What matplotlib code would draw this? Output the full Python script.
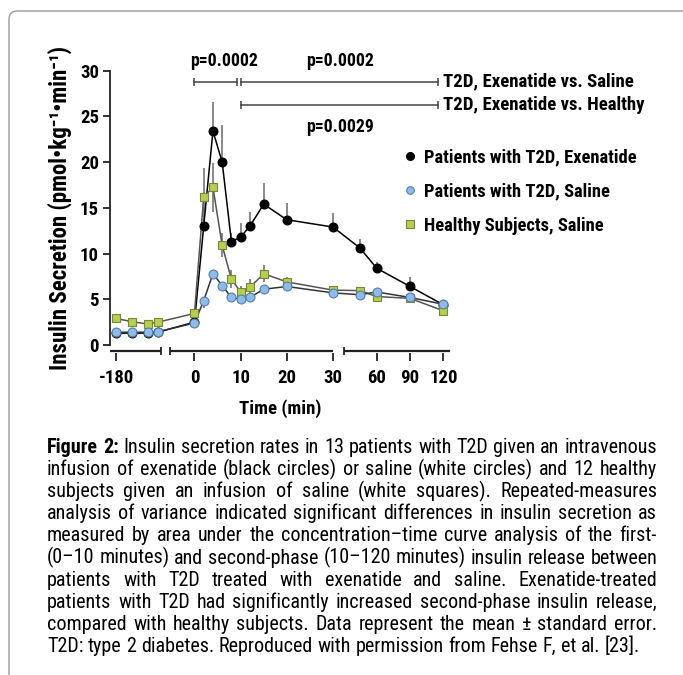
import numpy as np
import matplotlib
matplotlib.use('Agg')
import matplotlib.pyplot as plt
import matplotlib.font_manager as fm
from matplotlib.lines import Line2D
from matplotlib.patches import FancyBboxPatch

# pick a condensed sans if one is installed
avail = {f.name for f in fm.fontManager.ttflist}
narrow = next((n for n in ['Liberation Sans Narrow', 'Arial Narrow', 'Roboto Condensed',
                           'Open Sans Condensed'] if n in avail), 'Liberation Sans')
plt.rcParams['font.family'] = [narrow, 'DejaVu Sans']

# ---- data ----
time_min = [-180, -150, -120, -100, 0, 2, 4, 6, 8, 10, 12, 15, 20, 30, 45, 60, 90, 120]
exenatide = [1.3, 1.3, 1.3, 1.4, 2.5, 13.0, 23.4, 20.0, 11.3, 11.8, 13.0, 15.4, 13.7, 12.9, 10.6, 8.4, 6.4, 4.4]
exenatide_se = [0.2, 0.2, 0.2, 0.2, 0.3, 2.0, 3.2, 4.1, 1.0, 1.5, 1.5, 2.3, 1.8, 1.5, 1.0, 0.7, 1.0, 0.5]
saline = [1.4, 1.4, 1.4, 1.45, 2.4, 4.85, 7.8, 6.5, 5.2, 5.0, 5.2, 6.1, 6.4, 5.7, 5.5, 5.8, 5.2, 4.45]
saline_se = [0.2, 0.2, 0.2, 0.2, 0.3, 0.8, 0.6, 0.6, 0.4, 0.4, 0.4, 0.5, 0.5, 0.4, 0.4, 0.4, 0.5, 0.5]
healthy = [2.9, 2.55, 2.3, 2.5, 3.45, 16.2, 17.25, 10.9, 7.2, 5.8, 6.3, 7.8, 6.9, 6.0, 5.95, 5.3, 5.1, 3.75]
healthy_se = [0.3, 0.3, 0.3, 0.3, 0.4, 3.2, 2.7, 1.3, 1.0, 0.7, 0.9, 0.9, 0.5, 0.4, 0.4, 0.4, 0.4, 0.5]

xticks = [-180, 0, 10, 20, 30, 60, 90, 120]
yticks = [0, 5, 10, 15, 20, 25, 30]
legend_labels = ['Patients with T2D, Exenatide', 'Patients with T2D, Saline', 'Healthy Subjects, Saline']

caption = [
    "Figure 2: Insulin secretion rates in 13 patients with T2D given an intravenous",
    "infusion of exenatide (black circles) or saline (white circles) and 12 healthy",
    "subjects given an infusion of saline (white squares). Repeated-measures",
    "analysis of variance indicated significant differences in insulin secretion as",
    "measured by area under the concentration\u2013time curve analysis of the first-",
    "(0\u201310 minutes) and second-phase (10\u2013120 minutes) insulin release between",
    "patients with T2D treated with exenatide and saline. Exenatide-treated",
    "patients with T2D had significantly increased second-phase insulin release,",
    "compared with healthy subjects. Data represent the mean \u00b1 standard error.",
    "T2D: type 2 diabetes. Reproduced with permission from Fehse F, et al. [23].",
]

# broken time axis: piecewise linear scale
knots_t = [-192.3, -94, -5.3, 30, 32, 126]
knots_u = [110, 161, 170, 333, 345.6, 450]
fwd = lambda t: np.interp(t, knots_t, knots_u)
inv = lambda u: np.interp(u, knots_u, knots_t)

W, H = 683, 675
fig = plt.figure(figsize=(W / 100, H / 100), dpi=100)
ax = fig.add_axes([110 / W, 1 - 345 / H, 340 / W, 274.3 / H])
ax.set_xscale('function', functions=(fwd, inv))
ax.set_xlim(-192.3, 126)
ax.set_ylim(0, 30)

zeros = np.zeros(len(time_min))
# exenatide (black)
ax.errorbar(time_min, exenatide, yerr=[zeros, exenatide_se], fmt='none', ecolor='#808080',
            elinewidth=1.3, capsize=0, zorder=1.5)
ax.plot(time_min, exenatide, color='black', lw=1.1, zorder=2)
ax.plot(time_min, exenatide, 'o', ms=6.2, mfc='black', mec='black', zorder=3)
# healthy (green squares)
ax.errorbar(time_min, healthy, yerr=healthy_se, fmt='none', ecolor='#808080',
            elinewidth=1.3, capsize=0, zorder=1.5)
ax.plot(time_min, healthy, color='#555555', lw=1.1, zorder=2)
ax.plot(time_min, healthy, 's', ms=6.0, mfc='#b6cf4c', mec='#76873a', mew=0.8, zorder=4)
# saline (blue circles)
ax.errorbar(time_min, saline, yerr=[saline_se, zeros], fmt='none', ecolor='#808080',
            elinewidth=1.3, capsize=0, zorder=1.5)
ax.plot(time_min, saline, color='#333333', lw=1.1, zorder=2)
ax.plot(time_min, saline, 'o', ms=6.4, mfc='#8fbbe6', mec='#4f7fb3', mew=0.8, zorder=5)

# axes styling
for s in ['top', 'right']:
    ax.spines[s].set_visible(False)
ax.spines['left'].set_bounds(0, 30)
ax.spines['left'].set_linewidth(1.3)
ax.spines['left'].set_color('#222222')
ax.spines['bottom'].set_position(('outward', 6))
ax.spines['bottom'].set_visible(False)
ax.set_yticks(yticks)
ax.set_xticks(xticks)
ax.set_xticklabels([str(v) for v in xticks])
ax.tick_params(axis='y', length=5, width=1.3, pad=3, color='#222222', labelsize=13.5)
ax.tick_params(axis='x', length=6, width=1.3, pad=5, color='#222222', labelsize=13.5)
for lab in ax.get_xticklabels() + ax.get_yticklabels():
    lab.set_fontweight('bold')

# broken x-axis line segments
base = -6 / 274.3
xtr = ax.get_xaxis_transform()
for a, b in [(-192.3, -94), (-5.3, 30), (31.7, 126)]:
    ax.plot([a, b], [base, base], color='#222222', lw=1.6, transform=xtr, clip_on=False,
            solid_capstyle='butt')
ax.plot([-94, -5.3, 31.7], [base] * 3, '|', color='#222222', ms=6, mew=1.3,
        transform=xtr, clip_on=False)

ax.set_xlabel('Time (min)', fontsize=13.5, fontweight='bold', labelpad=9)
ax.set_ylabel('Insulin Secretion (pmol\u2022kg\u207b\u00b9\u2022min\u207b\u00b9)',
              fontsize=16.5, fontweight='bold', labelpad=6)

# significance brackets
bc = '#444444'
for a, b, yv in [(0, 9.3, 28.8), (10, 115.5, 28.8), (10, 115.5, 26.3)]:
    ax.plot([a, b], [yv, yv], color=bc, lw=1.1, clip_on=False)
    ax.plot([a, b], [yv, yv], '|', color=bc, ms=6, mew=1.1, clip_on=False)
ax.text(6.3, 31.1, 'p=0.0002', ha='center', va='center', fontsize=12.8, fontweight='bold', clip_on=False)
ax.text(31.1, 31.1, 'p=0.0002', ha='center', va='center', fontsize=12.8, fontweight='bold', clip_on=False)
ax.text(31.1, 23.8, 'p=0.0029', ha='center', va='center', fontsize=12.8, fontweight='bold', clip_on=False)
ax.text(119.8, 28.8, 'T2D, Exenatide vs. Saline', ha='left', va='center', fontsize=13.5,
        fontweight='bold', clip_on=False)
ax.text(119.8, 26.3, 'T2D, Exenatide vs. Healthy', ha='left', va='center', fontsize=13.5,
        fontweight='bold', clip_on=False)

# legend
handles = [
    Line2D([], [], ls='none', marker='o', ms=5.5, mfc='black', mec='black'),
    Line2D([], [], ls='none', marker='o', ms=5.5, mfc='#8fbbe6', mec='#4f7fb3', mew=0.8),
    Line2D([], [], ls='none', marker='s', ms=5.5, mfc='#b6cf4c', mec='#76873a', mew=0.8),
]
ax.legend(handles, legend_labels, loc='upper left', bbox_to_anchor=(404 / W, 1 - 148 / H),
          bbox_transform=fig.transFigure, frameon=False, handlelength=0.6, handletextpad=0.5,
          labelspacing=0.88, borderpad=0, borderaxespad=0,
          prop={'weight': 'bold', 'size': 13.3})

# frame around the figure
fig.patches.append(FancyBboxPatch((9 / W, -0.1), 1.2, 1 - 11 / H + 0.1,
                                  boxstyle='round,pad=0,rounding_size=0.012',
                                  transform=fig.transFigure, fill=False,
                                  ec='#9a9a9a', lw=1.0))

# justified caption; size chosen so the tightest line fills the column
renderer = fig.canvas.get_renderer()
x_left, x_right = 47, 657
probe = fig.text(0, 0, caption[5], fontsize=10)
cap_size = 10 * (x_right - x_left) / probe.get_window_extent(renderer).width * 0.995
probe.remove()
y0, dy = 453, 22.1
for i, line in enumerate(caption):
    words = line.split(' ')
    y = 1 - (y0 + i * dy) / H
    texts = []
    for j, w in enumerate(words):
        bold = (i == 0 and j < 2)
        texts.append(fig.text(0, y, w, fontsize=cap_size, fontweight='bold' if bold else 'normal',
                              va='baseline', ha='left'))
    widths = [t.get_window_extent(renderer).width for t in texts]
    sp = fig.text(0, 0, 'a a', fontsize=cap_size)
    sp2 = fig.text(0, 0, 'aa', fontsize=cap_size)
    space = sp.get_window_extent(renderer).width - sp2.get_window_extent(renderer).width
    sp.remove(); sp2.remove()
    if i < len(caption) - 1:
        gap = max((x_right - x_left - sum(widths)) / (len(words) - 1), space * 0.6)
    else:
        gap = space
    x = x_left
    for t, w in zip(texts, widths):
        t.set_x(x / W)
        x += w + gap

fig.savefig('out.png', dpi=100)
